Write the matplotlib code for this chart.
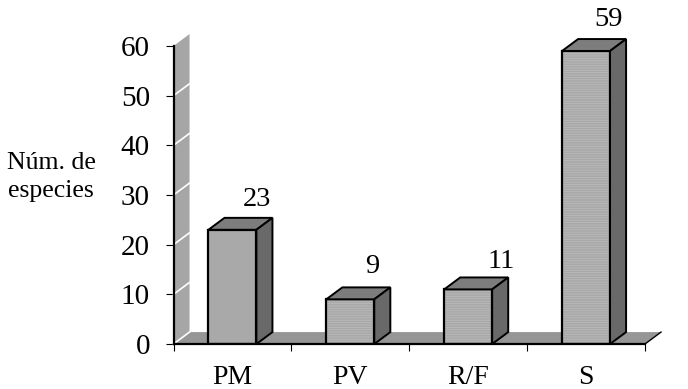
import matplotlib
matplotlib.use('Agg')
import matplotlib.pyplot as plt
from matplotlib.patches import Polygon

categories = ['PM', 'PV', 'R/F', 'S']
valores = [23, 9, 11, 59]
yticks = [0, 10, 20, 30, 40, 50, 60]

# desplazamiento de cada etiqueta respecto al centro de la barra (pixeles)
label_dx = [24, 22, 33, 22]
label_dy = [30, 33, 28, 31]

# profundidad del efecto 3D en unidades de los ejes
DX = 0.136
DY = 2.4
ANCHO = 0.407

plt.rcParams['font.family'] = ['Liberation Serif', 'DejaVu Serif']
plt.rcParams['hatch.linewidth'] = 0.5

W, H = 688, 389
fig = plt.figure(figsize=(W / 100, H / 100), dpi=100)
ax = fig.add_axes([173.5 / W, 1 - 344 / H, (645 - 173.5) / W, (344 - 46) / H])
n = len(categories)
ax.set_xlim(0, n)
ax.set_ylim(0, 60)

# pared y suelo
ax.add_patch(Polygon([(0, 0), (DX, DY), (DX, 60 + DY), (0, 60)], fc='#a6a6a6', ec='none', clip_on=False, zorder=1))
ax.add_patch(Polygon([(0, 0), (DX, DY), (n + DX, DY), (n, 0)], fc='#969696', ec='none', clip_on=False, zorder=1))
ax.plot([n, n + DX], [0, DY], color='black', lw=1, clip_on=False, zorder=2)
for t in yticks[1:-1]:
    ax.plot([0, DX], [t, t + DY], color='white', lw=1.2, clip_on=False, zorder=2)
ax.plot([0, DX], [0, DY], color='white', lw=1.2, clip_on=False, zorder=2)

for i, v in enumerate(valores):
    c = i + 0.5
    x0 = c - ANCHO / 2
    x1 = c + ANCHO / 2
    ax.bar(c, v, ANCHO, color='#a9a9a9', zorder=3)
    if i > 0:
        ax.bar(c, v, ANCHO, facecolor='none', edgecolor='#bcbcbc', hatch='-------', lw=0, zorder=3)
    ax.bar(c, v, ANCHO, facecolor='none', edgecolor='black', lw=1.6, zorder=4)
    ax.add_patch(Polygon([(x0, v), (x0 + DX, v + DY), (x1 + DX, v + DY), (x1, v)],
                         fc='#7d7d7d', ec='black', lw=1.4, clip_on=False, zorder=4))
    ax.add_patch(Polygon([(x1, 0), (x1 + DX, DY), (x1 + DX, v + DY), (x1, v)],
                         fc='#696969', ec='black', lw=1.4, clip_on=False, zorder=4))
    ax.annotate(str(v), (c, v), xytext=(label_dx[i] * 0.72, label_dy[i] * 0.72),
                textcoords='offset points', ha='center', va='center', fontsize=20.5,
                annotation_clip=False, zorder=5)

ax.patch.set_visible(False)
for s in ['top', 'right']:
    ax.spines[s].set_visible(False)
for s in ['left', 'bottom']:
    ax.spines[s].set_linewidth(1.6)
    ax.spines[s].set_zorder(6)

ax.set_yticks(yticks)
ax.set_yticklabels([str(t) for t in yticks], fontsize=21)
ax.tick_params(axis='y', length=5.5, width=0.8, pad=11.5)
ax.set_xticks(range(n + 1))
ax.set_xticklabels([])
ax.tick_params(axis='x', length=5, width=0.8)
ax.set_xticks([i + 0.5 for i in range(n)], minor=True)
ax.set_xticklabels(categories, minor=True, fontsize=20)
ax.tick_params(axis='x', which='minor', length=0, pad=15)

fig.text(51 / W, 1 - 177 / H, 'Núm. de\nespecies', ha='center', va='center', fontsize=18.5, linespacing=1.35)

fig.savefig('out.png', dpi=100)
